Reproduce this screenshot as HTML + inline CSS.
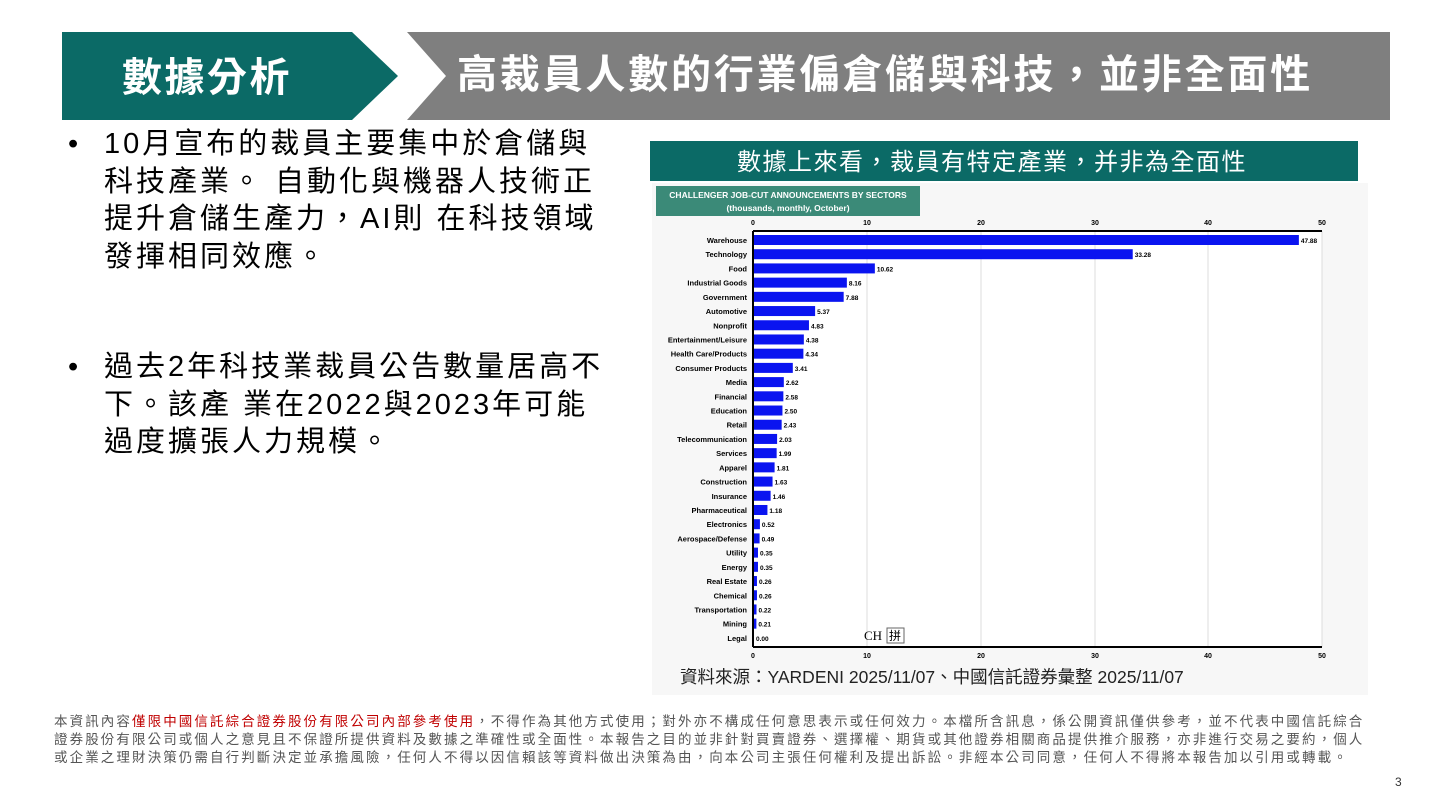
<!DOCTYPE html>
<html><head><meta charset="utf-8"><style>
body{margin:0;width:1429px;height:804px;background:#fff;position:relative;overflow:hidden;font-family:"Liberation Sans","Noto Sans CJK TC",sans-serif}
.b{position:absolute;left:68px;font-size:29px;line-height:37.5px;letter-spacing:3px;color:#000;white-space:nowrap;font-family:"Liberation Sans","Noto Sans CJK TC",sans-serif}
.foot{position:absolute;left:54px;top:713px;width:1380px;font-size:13.5px;line-height:18px;color:#555;white-space:nowrap;letter-spacing:2.1px}
</style></head><body>
<svg width="1429" height="804" style="position:absolute;left:0;top:0">
<polygon points="62,32 352,32 398,76 352,120 62,120" fill="#0b6a66"/>
<polygon points="407,32 1390,32 1390,120 407,120 446,76" fill="#7f7f7f"/>
<text x="122" y="91" fill="#fff" font-size="40" font-weight="bold" letter-spacing="2.5" font-family="Liberation Sans,Noto Sans CJK TC,sans-serif">數據分析</text>
<text x="457" y="88" fill="#fff" font-size="40" font-weight="bold" letter-spacing="2.8" font-family="Liberation Sans,Noto Sans CJK TC,sans-serif">高裁員人數的行業偏倉儲與科技，並非全面性</text>
<rect x="650" y="141" width="708" height="40" fill="#0b6a66"/>
<text x="737" y="170" fill="#fff" font-size="24" letter-spacing="1.5" font-family="Liberation Sans,Noto Sans CJK TC,sans-serif">數據上來看，裁員有特定產業，并非為全面性</text>
<rect x="652" y="183" width="716" height="512" fill="#f7f7f7"/>
<rect x="656" y="186" width="264" height="30" fill="#3b8a78"/>
<text x="788" y="198" fill="#fff" font-size="8.5" font-weight="bold" text-anchor="middle" font-family="Liberation Sans,sans-serif">CHALLENGER JOB-CUT ANNOUNCEMENTS BY SECTORS</text>
<text x="788" y="211" fill="#fff" font-size="8.5" font-weight="bold" text-anchor="middle" font-family="Liberation Sans,sans-serif">(thousands, monthly, October)</text>
<rect x="753" y="231" width="569" height="416" fill="#fff"/>
<g stroke="#ddd" stroke-width="1">
<line x1="867" y1="231" x2="867" y2="647"/><line x1="981" y1="231" x2="981" y2="647"/><line x1="1095" y1="231" x2="1095" y2="647"/><line x1="1208" y1="231" x2="1208" y2="647"/><line x1="1322" y1="231" x2="1322" y2="647"/>
</g>
<g stroke="#000" stroke-width="2"><line x1="753" y1="231" x2="1322" y2="231"/><line x1="753" y1="647" x2="1322" y2="647"/><line x1="753" y1="231" x2="753" y2="647"/></g>
<g font-size="7" font-weight="bold" text-anchor="middle" font-family="Liberation Sans,sans-serif">
<text x="753" y="225">0</text><text x="867" y="225">10</text><text x="981" y="225">20</text><text x="1095" y="225">30</text><text x="1208" y="225">40</text><text x="1322" y="225">50</text>
<text x="753" y="658">0</text><text x="867" y="658">10</text><text x="981" y="658">20</text><text x="1095" y="658">30</text><text x="1208" y="658">40</text><text x="1322" y="658">50</text>
</g>
<g id="bars" font-size="7.5" font-weight="bold" font-family="Liberation Sans,sans-serif"></g>
<text x="864" y="640" font-size="13" font-family="Liberation Serif,serif">CH</text>
<rect x="887" y="628" width="17" height="15" fill="none" stroke="#666"/><text x="889" y="640" font-size="12" font-family="Noto Sans CJK TC,sans-serif">拼</text>
<text x="680" y="683" font-size="17.5" fill="#222" font-family="Liberation Sans,Noto Sans CJK TC,sans-serif">資料來源：YARDENI 2025/11/07、中國信託證券彙整 2025/11/07</text>
<text x="1395" y="786" font-size="12" fill="#333" font-family="Liberation Sans,sans-serif">3</text>
</svg>
<div class="b" style="top:126px"><span style="display:inline-block;width:36px">•</span>10月宣布的裁員主要集中於倉儲與<br><span style="display:inline-block;width:36px"></span>科技產業。 自動化與機器人技術正<br><span style="display:inline-block;width:36px"></span>提升倉儲生產力，AI則 在科技領域<br><span style="display:inline-block;width:36px"></span>發揮相同效應。</div>
<div class="b" style="top:349px"><span style="display:inline-block;width:36px">•</span>過去2年科技業裁員公告數量居高不<br><span style="display:inline-block;width:36px"></span>下。該產 業在2022與2023年可能<br><span style="display:inline-block;width:36px"></span>過度擴張人力規模。</div>
<div class="foot">本資訊內容<span style="color:#c00000">僅限中國信託綜合證券股份有限公司內部參考使用</span>，不得作為其他方式使用；對外亦不構成任何意思表示或任何效力。本檔所含訊息，係公開資訊僅供參考，並不代表中國信託綜合<br>證券股份有限公司或個人之意見且不保證所提供資料及數據之準確性或全面性。本報告之目的並非針對買賣證券、選擇權、期貨或其他證券相關商品提供推介服務，亦非進行交易之要約，個人<br>或企業之理財決策仍需自行判斷決定並承擔風險，任何人不得以因信賴該等資料做出決策為由，向本公司主張任何權利及提出訴訟。非經本公司同意，任何人不得將本報告加以引用或轉載。</div>
<script>
var d=[["Warehouse",47.88],["Technology",33.28],["Food",10.62],["Industrial Goods",8.16],["Government",7.88],["Automotive",5.37],["Nonprofit",4.83],["Entertainment/Leisure",4.38],["Health Care/Products",4.34],["Consumer Products",3.41],["Media",2.62],["Financial",2.58],["Education",2.50],["Retail",2.43],["Telecommunication",2.03],["Services",1.99],["Apparel",1.81],["Construction",1.63],["Insurance",1.46],["Pharmaceutical",1.18],["Electronics",0.52],["Aerospace/Defense",0.49],["Utility",0.35],["Energy",0.35],["Real Estate",0.26],["Chemical",0.26],["Transportation",0.22],["Mining",0.21],["Legal",0.00]];
var g=document.getElementById("bars"),s="";
d.forEach(function(r,i){var y=240+i*14.21,w=r[1]*11.38;
s+='<rect x="754" y="'+(y-5)+'" width="'+w+'" height="10" fill="#0a14f0"/>';
s+='<text x="747" y="'+(y+3)+'" text-anchor="end">'+r[0]+'</text>';
s+='<text x="'+(756+w)+'" y="'+(y+3)+'" font-size="6.5">'+r[1].toFixed(2)+'</text>';});
g.innerHTML=s;
</script>
</body></html>
